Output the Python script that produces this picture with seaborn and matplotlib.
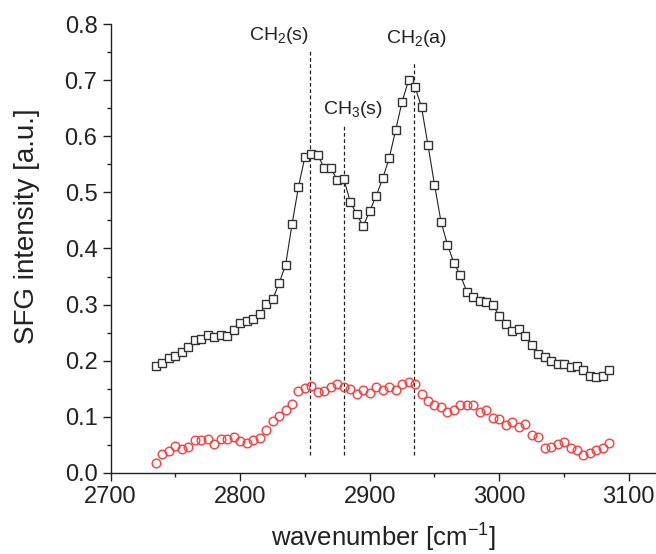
import numpy as np
import pandas as pd
import matplotlib
matplotlib.use("Agg")
import matplotlib.pyplot as plt
import seaborn as sns

# wavenumber grid of the measurement (cm^-1)
wavenumber = [2735, 2740, 2745, 2750, 2755, 2760, 2765, 2770, 2775, 2780,
              2785, 2790, 2795, 2800, 2805, 2810, 2815, 2820, 2825, 2830,
              2835, 2840, 2845, 2850, 2855, 2860, 2865, 2870, 2875, 2880,
              2885, 2890, 2895, 2900, 2905, 2910, 2915, 2920, 2925, 2930,
              2935, 2940, 2945, 2950, 2955, 2960, 2965, 2970, 2975, 2980,
              2985, 2990, 2995, 3000, 3005, 3010, 3015, 3020, 3025, 3030,
              3035, 3040, 3045, 3050, 3055, 3060, 3065, 3070, 3075, 3080,
              3085]

# black squares
sfg_black = [0.191, 0.195, 0.204, 0.209, 0.215, 0.225, 0.237, 0.239, 0.245, 0.242,
             0.246, 0.243, 0.255, 0.267, 0.271, 0.275, 0.283, 0.301, 0.309, 0.338,
             0.370, 0.443, 0.510, 0.564, 0.568, 0.566, 0.543, 0.543, 0.522, 0.524,
             0.483, 0.461, 0.440, 0.467, 0.494, 0.525, 0.561, 0.611, 0.662, 0.700,
             0.688, 0.652, 0.584, 0.514, 0.448, 0.407, 0.374, 0.352, 0.323, 0.314,
             0.307, 0.304, 0.299, 0.280, 0.265, 0.253, 0.256, 0.244, 0.228, 0.212,
             0.207, 0.200, 0.194, 0.194, 0.189, 0.190, 0.183, 0.173, 0.171, 0.173,
             0.183]

# red circles
sfg_red = [0.018, 0.033, 0.039, 0.048, 0.042, 0.045, 0.058, 0.059, 0.060, 0.051,
           0.060, 0.060, 0.064, 0.057, 0.053, 0.058, 0.062, 0.076, 0.092, 0.101,
           0.112, 0.123, 0.145, 0.151, 0.155, 0.144, 0.146, 0.152, 0.159, 0.153,
           0.149, 0.140, 0.148, 0.143, 0.152, 0.148, 0.152, 0.148, 0.158, 0.162,
           0.159, 0.140, 0.128, 0.120, 0.118, 0.109, 0.112, 0.121, 0.121, 0.120,
           0.108, 0.111, 0.097, 0.095, 0.085, 0.090, 0.081, 0.087, 0.068, 0.064,
           0.044, 0.046, 0.051, 0.055, 0.044, 0.041, 0.031, 0.035, 0.041, 0.044,
           0.053]

# band assignments (position, label, top of dashed line)
band_pos = [2854, 2880, 2934]
band_labels = ["CH$_2$(s)", "CH$_3$(s)", "CH$_2$(a)"]
band_top = [0.752, 0.623, 0.731]

df = pd.DataFrame({"wavenumber": wavenumber, "black": sfg_black, "red": sfg_red})

sns.set_style("ticks")
plt.rcParams['font.family'] = ['Liberation Sans', 'DejaVu Sans']
plt.rcParams['mathtext.default'] = 'regular'
plt.rcParams['axes.linewidth'] = 1.0

fig = plt.figure(figsize=(6.56, 5.54), dpi=100)
ax = fig.add_axes([0.1687, 0.1468, 0.8313, 0.8093])

# dashed marker lines for the bands
for pos, top in zip(band_pos, band_top):
    ax.vlines(pos, 0.032, top, colors='#222222', linestyles=(0, (3, 2)), linewidth=0.9, zorder=1)

sns.lineplot(data=df, x="wavenumber", y="black", ax=ax, color='#222222', linewidth=0.8,
             marker='s', markersize=5.5, markerfacecolor='white', markeredgecolor='#333333',
             markeredgewidth=1.0, zorder=3)
sns.lineplot(data=df, x="wavenumber", y="red", ax=ax, linestyle='', marker='o',
             markersize=6.2, markerfacecolor='none', markeredgecolor='#ff3b3b',
             markeredgewidth=1.0, zorder=3)

# band labels
ax.text(2830, 0.78, band_labels[0], ha='center', va='center', fontsize=14, color='#222222')
ax.text(2887, 0.648, band_labels[1], ha='center', va='center', fontsize=14, color='#222222')
ax.text(2936, 0.774, band_labels[2], ha='center', va='center', fontsize=14, color='#222222')

ax.set_xlim(2700, 3121)
ax.set_ylim(0, 0.8)
ax.set_xticks([2700, 2800, 2900, 3000, 3100])
ax.set_xticks(np.arange(2750, 3101, 100), minor=True)
ax.set_yticks(np.arange(0, 0.81, 0.1))
ax.set_yticks(np.arange(0.05, 0.8, 0.1), minor=True)
ax.yaxis.set_major_formatter(plt.FormatStrFormatter('%.1f'))
ax.tick_params(which='major', direction='out', length=5.5, width=1.0,
               labelsize=17, pad=4, colors='#222222')
ax.tick_params(which='minor', direction='out', length=3, width=1.0, colors='#222222')

ax.set_xlabel("wavenumber [cm$^{-1}$]", fontsize=18.5, color='#222222', labelpad=10)
ax.set_ylabel("SFG intensity [a.u.]", fontsize=20, color='#222222')
ax.yaxis.set_label_coords(-0.13, 0.55)
sns.despine(ax=ax)
ax.spines['left'].set_color('#222222')
ax.spines['bottom'].set_color('#222222')

fig.savefig("out.png", dpi=100)
plt.close(fig)
